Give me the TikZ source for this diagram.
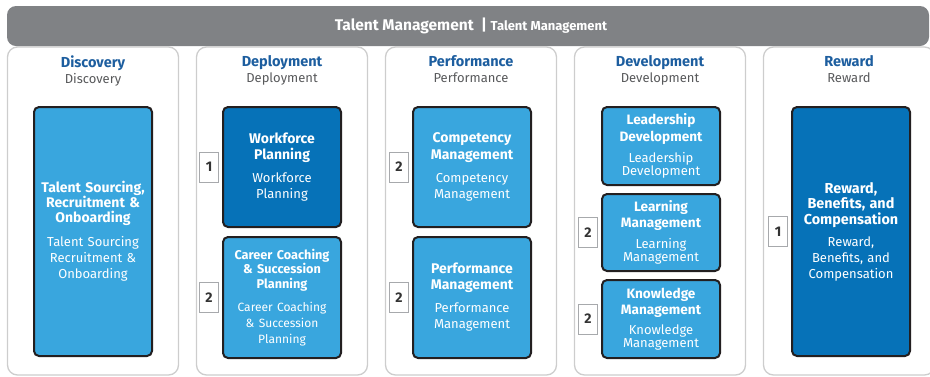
\documentclass[tikz,border=0pt]{standalone}
\usepackage{fontspec}
\setmainfont{Fira Sans}
\usetikzlibrary{positioning}
\definecolor{hdrgray}{HTML}{808285}
\definecolor{colline}{HTML}{CDCDCD}
\definecolor{ttlblue}{HTML}{1D5E9F}
\definecolor{subgray}{HTML}{58595B}
\definecolor{tileblue}{HTML}{39A6DE}
\definecolor{tiledark}{HTML}{0672B8}
\definecolor{tileline}{HTML}{231F20}
\definecolor{badgeline}{HTML}{A7A9AC}
\definecolor{badgetext}{HTML}{333333}

\begin{document}
\begin{tikzpicture}[x=1pt,y=-1pt,every node/.style={font=\fontsize{12}{15}\selectfont},
  hdr/.style={fill=hdrgray,rounded corners=9pt,minimum width=922pt,minimum height=40pt,text=white},
  col/.style={draw=colline,line width=1.3pt,rounded corners=10pt,minimum width=171pt,minimum height=328pt,inner sep=0pt},
  ttl/.style={align=center,font=\fontsize{14.5}{16}\selectfont\bfseries,text=ttlblue},
  tile/.style={draw=tileline,line width=2pt,rounded corners=5pt,fill=tileblue,text=white,align=center,
    text width=114pt,inner sep=2pt,font=\fontsize{13}{16}\selectfont},
  dtile/.style={tile,fill=tiledark},
  badge/.style={draw=badgeline,line width=1pt,fill=white,minimum width=19pt,minimum height=30pt,inner sep=0pt,
    font=\fontsize{14}{14}\selectfont\bfseries,text=badgetext}]
\useasboundingbox (0,0) rectangle (930,376);
\clip (0,0) rectangle (930,376);
% columns
\node[col] (disc) at (93,211) {};
\node[col] (depl) at (282,211) {};
\node[col] (perf) at (471,211) {};
\node[col] (devl) at (660,211) {};
\node[col] (rewd) at (849,211) {};
\node[hdr] (head) at (468,26) {\hspace{6pt}\bfseries\fontsize{15.5}{16}\selectfont Talent Management\ \ \textbar\ \fontsize{13}{16}\selectfont Talent Management};
\node[ttl,below=6pt of disc.north] (discT) {Discovery\\\mdseries\fontsize{13}{16}\selectfont\color{subgray}Discovery};
\node[ttl,below=6pt of depl.north] (deplT) {Deployment\\\mdseries\fontsize{13}{16}\selectfont\color{subgray}Deployment};
\node[ttl,below=6pt of perf.north] (perfT) {Performance\\\mdseries\fontsize{13}{16}\selectfont\color{subgray}Performance};
\node[ttl,below=6pt of devl.north] (devlT) {Development\\\mdseries\fontsize{13}{16}\selectfont\color{subgray}Development};
\node[ttl,below=6pt of rewd.north] (rewdT) {Reward\\\mdseries\fontsize{13}{16}\selectfont\color{subgray}Reward};
% tiles
\node[tile,minimum height=249pt] (tsr) at (93,231.5) {{\bfseries\fontsize{14}{15}\selectfont Talent Sourcing,\\Recruitment \&\\Onboarding\par}\vspace{8pt}Talent Sourcing\\Recruitment \&\\Onboarding};
\node[dtile,minimum height=120pt] (wfp) at (282,167) {{\bfseries\fontsize{14}{16}\selectfont Workforce\\Planning\par}\vspace{7pt}Workforce\\Planning};
\node[tile,minimum height=121pt,below=8pt of wfp] (ccs) {{\bfseries\fontsize{12.7}{14.5}\selectfont Career Coaching\\\& Succession\\Planning\par}\vspace{7pt}\fontsize{12}{16}\selectfont Career Coaching\\\& Succession\\Planning};
\node[tile,minimum height=120pt] (cmp) at (472,167) {{\bfseries\fontsize{14}{16.5}\selectfont Competency\\Management\par}\vspace{7pt}Competency\\Management};
\node[tile,minimum height=121pt,below=8pt of cmp] (pfm) {{\bfseries\fontsize{14}{16}\selectfont Performance\\Management\par}\vspace{7pt}Performance\\Management};
\node[tile,minimum height=78pt] (ldv) at (661,146) {{\bfseries\fontsize{13.6}{16.5}\selectfont Leadership\\Development\par}\vspace{7pt}\fontsize{13}{13}\selectfont Leadership\\Development\par};
\node[tile,minimum height=77pt,below=7pt of ldv] (lrn) {{\bfseries\fontsize{13.6}{16}\selectfont Learning\\Management\par}\vspace{7pt}\fontsize{13}{13}\selectfont Learning\\Management\par};
\node[tile,minimum height=78pt,below=7pt of lrn] (knw) {{\bfseries\fontsize{13.6}{16}\selectfont Knowledge\\Management\par}\vspace{7pt}\fontsize{13}{13}\selectfont Knowledge\\Management\par};
\node[dtile,minimum height=249pt] (rbc) at (851,231.5) {{\bfseries\fontsize{14.4}{15.5}\selectfont Reward,\\Benefits, and\\Compensation\par}\vspace{6pt}Reward,\\Benefits, and\\Compensation};
% badges
\node[badge,left=3pt of wfp] (b1) {1};
\node[badge,left=3pt of ccs] (b2) {2};
\node[badge,left=3pt of cmp] (b3) {2};
\node[badge,left=3pt of pfm] (b4) {2};
\node[badge,left=3pt of lrn] (b5) {2};
\node[badge,left=3pt of knw] (b6) {2};
\node[badge,left=3pt of rbc] (b7) {1};
\end{tikzpicture}
\end{document}
